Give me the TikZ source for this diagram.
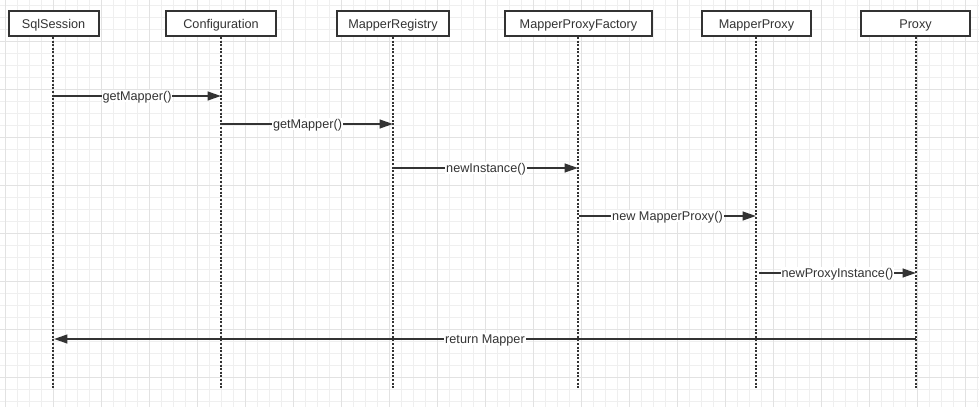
\documentclass[tikz,border=0pt]{standalone}
\usepackage{fontspec}
\setmainfont{Liberation Sans}
\usetikzlibrary{arrows.meta}
\definecolor{ink}{HTML}{333333}
\definecolor{gridminor}{HTML}{EFEFEF}
\definecolor{gridmajor}{HTML}{E2E2E2}
\tikzset{
  actor/.style={draw=ink, line width=1.5pt, fill=white, text=ink, font=\fontsize{9.5}{11}\selectfont,
    minimum height=25*0.75pt, inner sep=0pt, text height=6.8pt, text depth=0pt},
  lifeline/.style={draw=ink, line width=1.5pt, dash pattern=on 1.5pt off 1.2pt},
  msg/.style={draw=ink, line width=1.5pt, -{Triangle[length=10pt,width=6.5pt]}},
  msglabel/.style={fill=white, text=ink, inner xsep=0.6pt, inner ysep=1.2pt, font=\fontsize{9.5}{11}\selectfont,
    text height=6.8pt, text depth=0pt},
  gminor/.style={draw=gridminor, line width=0.75pt},
  gmajor/.style={draw=gridmajor, line width=0.75pt}
}
\begin{document}
\begin{tikzpicture}[x=0.75pt,y=-0.75pt]
\useasboundingbox[fill=white] (0,0) rectangle (979,407);
% grid
\foreach \g in {5,17,...,977} \draw[gminor] (\g,0) -- (\g,407);
\foreach \g in {5,17,...,407} \draw[gminor] (0,\g) -- (979,\g);
\foreach \g in {5,53,...,977} \draw[gmajor] (\g,0) -- (\g,407);
\foreach \g in {41,89,...,407} \draw[gmajor] (0,\g) -- (979,\g);
% actors
\node[actor, minimum width=90*0.75pt] (sql) at (53.5,23.5) {SqlSession};
\node[actor, minimum width=110*0.75pt] (cfg) at (221,23.5) {Configuration};
\node[actor, minimum width=112*0.75pt] (reg) at (393,23.5) {MapperRegistry};
\node[actor, minimum width=147*0.75pt] (fac) at (578.5,23.5) {MapperProxyFactory};
\node[actor, minimum width=109*0.75pt] (mp) at (756.5,23.5) {MapperProxy};
\node[actor, minimum width=109*0.75pt] (px) at (915.5,23.5) {Proxy};
% lifeline ends
\coordinate (sqlE) at (53,389);
\coordinate (cfgE) at (221,389);
\coordinate (regE) at (393,389);
\coordinate (facE) at (578,389);
\coordinate (mpE) at (756,389);
\coordinate (pxE) at (916,389);
\draw[lifeline] (sql.south -| sqlE) -- (sqlE);
\draw[lifeline] (cfg.south -| cfgE) -- (cfgE);
\draw[lifeline] (reg.south -| regE) -- (regE);
\draw[lifeline] (fac.south -| facE) -- (facE);
\draw[lifeline] (mp.south -| mpE) -- (mpE);
\draw[lifeline] (px.south -| pxE) -- (pxE);
% message points
\coordinate (a1) at (53,96);  \coordinate (b1) at (221,96);
\coordinate (a2) at (222,124); \coordinate (b2) at (393,124);
\coordinate (a3) at (394,168); \coordinate (b3) at (578,168);
\coordinate (a4) at (579,216); \coordinate (b4) at (756,216);
\coordinate (a5) at (759,273); \coordinate (b5) at (916,273);
\coordinate (a6) at (916,339); \coordinate (b6) at (54,339);
\draw[msg] (a1) -- node[msglabel] {getMapper()} (b1);
\draw[msg] (a2) -- node[msglabel] {getMapper()} (b2);
\draw[msg] (a3) -- node[msglabel] {newInstance()} (b3);
\draw[msg] (a4) -- node[msglabel] {new MapperProxy()} (b4);
\draw[msg] (a5) -- node[msglabel] {newProxyInstance()} (b5);
\draw[msg] (a6) -- node[msglabel] {return Mapper} (b6);
\end{tikzpicture}
\end{document}
